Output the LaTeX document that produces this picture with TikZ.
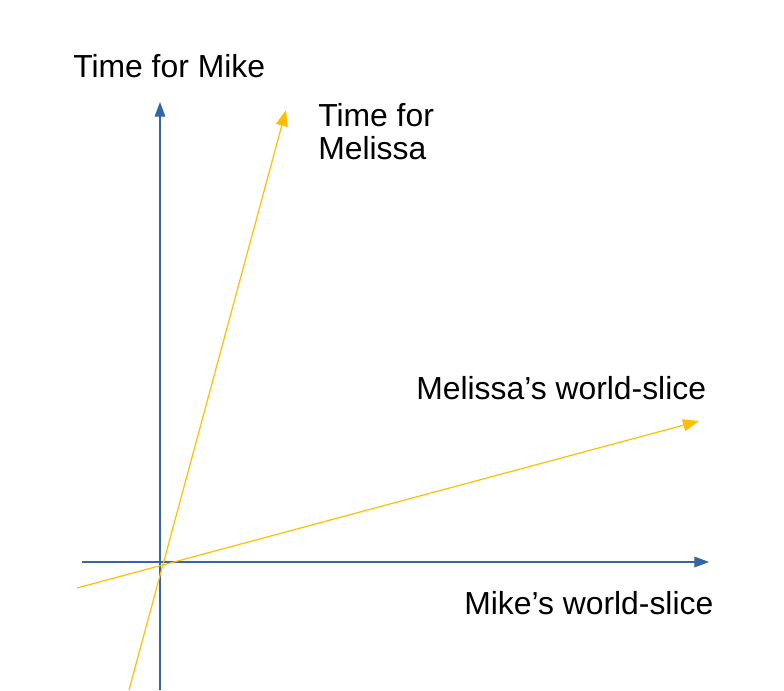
\documentclass[tikz,border=0pt]{standalone}
\usepackage{fontspec}
\setmainfont{Liberation Sans}
\usetikzlibrary{arrows.meta}
\definecolor{mikeblue}{HTML}{3465A4}
\definecolor{melissagold}{HTML}{FFBF00}

\begin{document}
\begin{tikzpicture}[x=0.75pt, y=-0.75pt]
        \tikzstyle{every node}=[inner sep=0pt, anchor=base west, font=\fontsize{23.9}{24.75}\selectfont]
        \tikzstyle{mike axis}=[draw=mikeblue, line width=0.9pt, -{Triangle[length=11pt, width=8pt]}]
        \tikzstyle{melissa axis}=[draw=melissagold, line width=0.9pt, -{Triangle[length=12pt, width=9pt]}]

% Frame of the picture
        \useasboundingbox (0,0) rectangle (784,690);

% Mike's axes
        \coordinate (mikeTimeStart) at (160,690);
        \coordinate (mikeTimeEnd) at (160,102);
        \coordinate (mikeSliceStart) at (82,562);
        \coordinate (mikeSliceEnd) at (709,562);
        \draw[mike axis] (mikeTimeStart) -- (mikeTimeEnd);
        \draw[mike axis] (mikeSliceStart) -- (mikeSliceEnd);

% Melissa's axes
        \coordinate (melissaTimeStart) at (129,690);
        \coordinate (melissaTimeEnd) at (286,110);
        \coordinate (melissaSliceStart) at (77,588);
        \coordinate (melissaSliceEnd) at (699,421);
        \draw[melissa axis] (melissaTimeStart) -- (melissaTimeEnd);
        \draw[melissa axis] (melissaSliceStart) -- (melissaSliceEnd);

% Labels
        \node (mikeTime) at (73,77) {Time for Mike};
        \node[align=left] (melissaTime) at (318,159) {Time for\\Melissa};
        \node (melissaSlice) at (416,399) {Melissa’s world-slice};
        \node (mikeSlice) at (464,614) {Mike’s world-slice};

    \end{tikzpicture}
\end{document}
